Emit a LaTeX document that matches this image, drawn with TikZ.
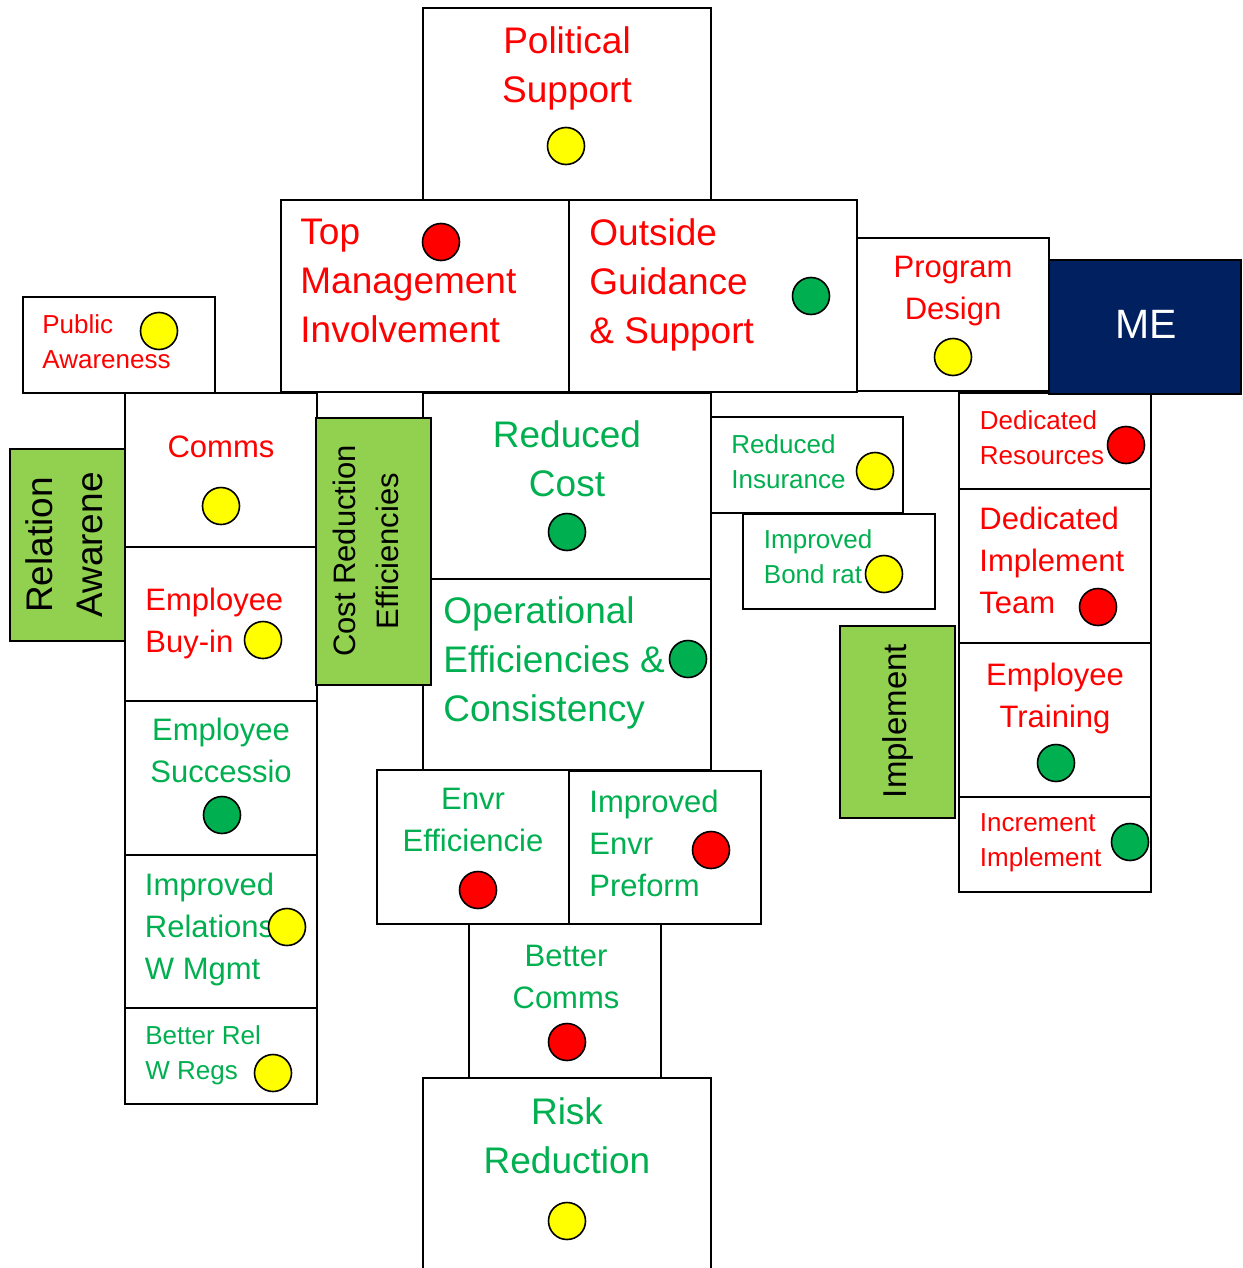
\documentclass[tikz,border=0pt]{standalone}
\usepackage{fontspec}
\setmainfont{Liberation Sans}
\definecolor{txtred}{HTML}{FF0000}
\definecolor{txtgreen}{HTML}{00B050}
\definecolor{leaf}{HTML}{92D050}
\definecolor{navy}{HTML}{002060}
\definecolor{amber}{HTML}{FFFF00}
\tikzset{
  cell/.style={draw=black, line width=1pt, fill=white},
  tab/.style={draw=black, line width=1pt, fill=leaf},
  big/.style={font=\fontsize{18.5}{24.5}\selectfont, inner sep=0pt},
  mid/.style={font=\fontsize{15.5}{21}\selectfont, inner sep=0pt},
  small/.style={font=\fontsize{13}{17.5}\selectfont, inner sep=0pt},
  rd/.style={text=txtred},
  gr/.style={text=txtgreen},
  lamp/.style={circle, draw=black, line width=0.8pt, minimum size=18.5pt, inner sep=0pt},
  ylamp/.style={lamp, fill=amber},
  rlamp/.style={lamp, fill=txtred},
  glamp/.style={lamp, fill=txtgreen},
}
\begin{document}
\begin{tikzpicture}[x=0.5pt, y=-0.5pt]
\useasboundingbox (0,0) rectangle (1242,1268);

% white cells
\draw[cell] (423,8) rectangle (711,200);
\draw[cell] (281,200) rectangle (569,392);
\draw[cell] (569,200) rectangle (857,392);
\draw[cell] (857,238) rectangle (1049,391);
\draw[cell] (23,297) rectangle (215,393);
\draw[cell] (125,393) rectangle (317,547);
\draw[cell] (125,547) rectangle (317,701);
\draw[cell] (125,701) rectangle (317,855);
\draw[cell] (125,855) rectangle (317,1008);
\draw[cell] (125,1008) rectangle (317,1104);
\draw[cell] (423,393) rectangle (711,579);
\draw[cell] (423,579) rectangle (711,770);
\draw[cell] (711,417) rectangle (903,513);
\draw[cell] (743,514) rectangle (935,609);
\draw[cell] (959,393) rectangle (1151,489);
\draw[cell] (959,489) rectangle (1151,643);
\draw[cell] (959,643) rectangle (1151,797);
\draw[cell] (959,797) rectangle (1151,892);
\draw[cell] (377,770) rectangle (569,924);
\draw[cell] (569,771) rectangle (761,924);
\draw[cell] (469,924) rectangle (661,1078);
\fill[white] (423,1078) rectangle (711,1275);
\draw[line width=1pt] (423,1275) -- (423,1078) -- (711,1078) -- (711,1275);

% coloured tabs
\draw[tab] (10,449) rectangle (125,641);
\draw[tab] (316,418) rectangle (431,685);
\draw[tab] (840,626) rectangle (955,818);
\draw[draw=black, line width=1pt, fill=navy] (1049,260) rectangle (1241,394);

% labels
\node[big, rd, anchor=north, align=center] (political) at (567,26.5) {Political\\Support};
\node[big, rd, anchor=north west, align=left] (topmgmt) at (300,218.5) {Top\\Management\\Involvement};
\node[big, rd, anchor=north west, align=left] (outside) at (589,218.5) {Outside\\Guidance\\\& Support};
\node[mid, rd, anchor=north, align=center] (program) at (953,255.8) {Program\\Design};
\node[font=\fontsize{20.5}{24}\selectfont, text=white, inner sep=0pt, anchor=base] (me) at (1146,338) {ME};
\node[small, rd, anchor=north west, align=left] (public) at (42,314.4) {Public\\Awareness};
\node[mid, rd, anchor=base] (comms) at (221,457) {Comms};
\node[mid, rd, anchor=north west, align=left] (buyin) at (145,587.8) {Employee\\Buy-in};
\node[mid, gr, anchor=north, align=center] (succ) at (221,717.8) {Employee\\Successio};
\node[mid, gr, anchor=north west, align=left] (imprel) at (144.5,872.8) {Improved\\Relations\\W Mgmt};
\node[small, gr, anchor=north west, align=left] (betrel) at (145,1025.4) {Better Rel\\W Regs};
\node[big, gr, anchor=north, align=center] (redcost) at (567,420.5) {Reduced\\Cost};
\node[big, gr, anchor=north west, align=left] (oper) at (443,596.5) {Operational\\Efficiencies \&\\Consistency};
\node[small, gr, anchor=north west, align=left] (redins) at (731,434.4) {Reduced\\Insurance};
\node[small, gr, anchor=north west, align=left] (bond) at (763.5,529.4) {Improved\\Bond rat};
\node[small, rd, anchor=north west, align=left] (dedres) at (979.5,410.4) {Dedicated\\Resources};
\node[mid, rd, anchor=north west, align=left] (dedteam) at (979,506.8) {Dedicated\\Implement\\Team};
\node[mid, rd, anchor=north, align=center] (training) at (1055,662.8) {Employee\\Training};
\node[small, rd, anchor=north west, align=left] (incr) at (979.5,813.4) {Increment\\Implement};
\node[mid, gr, anchor=north, align=center] (envr) at (473,787.8) {Envr\\Efficiencie};
\node[mid, gr, anchor=north west, align=left] (impenv) at (589,789.8) {Improved\\Envr\\Preform};
\node[mid, gr, anchor=north, align=center] (betcomm) at (566,944.8) {Better\\Comms};
\node[big, gr, anchor=north, align=center] (risk) at (567,1097.5) {Risk\\Reduction};

% rotated tab captions
\node[font=\fontsize{18.5}{25}\selectfont, inner sep=0pt, rotate=90, align=center] (relaw) at (64,545) {Relation\\Awarene};
\node[font=\fontsize{15.5}{21.5}\selectfont, inner sep=0pt, rotate=90, align=center] (costred) at (366,551) {Cost Reduction\\Efficiencies};
\node[font=\fontsize{16.5}{20}\selectfont, inner sep=0pt, rotate=90] (implement) at (897.5,721) {Implement};

% status lamps
\node[ylamp] (l-political) at (566,146) {};
\node[rlamp] (l-topmgmt) at (441,242) {};
\node[glamp] (l-outside) at (811,296) {};
\node[ylamp] (l-program) at (953,357) {};
\node[ylamp] (l-public) at (159,331) {};
\node[ylamp] (l-comms) at (221,506) {};
\node[ylamp] (l-buyin) at (263,640) {};
\node[glamp] (l-redcost) at (567,532) {};
\node[glamp] (l-oper) at (688,659) {};
\node[ylamp] (l-redins) at (875,471) {};
\node[ylamp] (l-bond) at (884,574) {};
\node[rlamp] (l-dedres) at (1126,445) {};
\node[rlamp] (l-dedteam) at (1098,607) {};
\node[glamp] (l-training) at (1056,763) {};
\node[glamp] (l-incr) at (1130,842) {};
\node[glamp] (l-succ) at (222,815) {};
\node[ylamp] (l-imprel) at (287,927) {};
\node[ylamp] (l-betrel) at (273,1073) {};
\node[rlamp] (l-envr) at (478,890) {};
\node[rlamp] (l-impenv) at (711,850) {};
\node[rlamp] (l-betcomm) at (567,1042) {};
\node[ylamp] (l-risk) at (567,1221) {};
\end{tikzpicture}
\end{document}
